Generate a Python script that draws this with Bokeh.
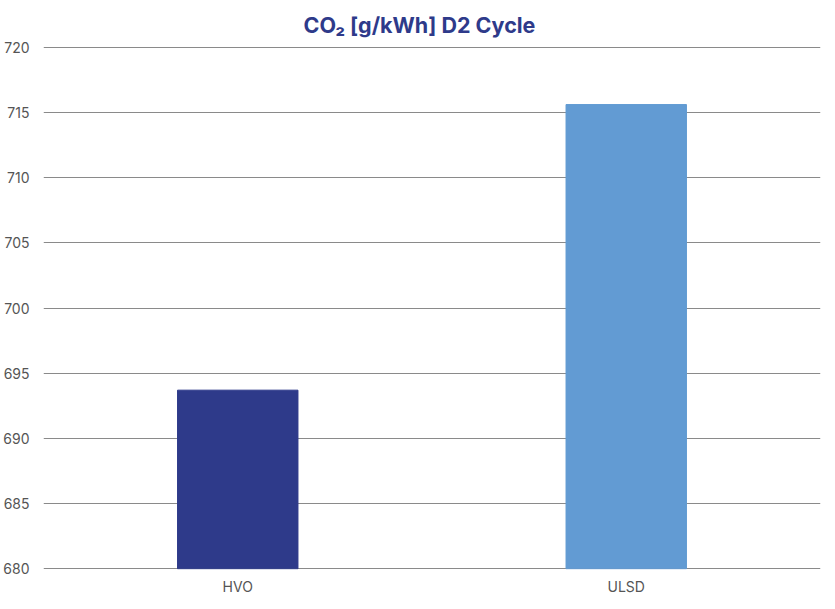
from bokeh.plotting import figure
from bokeh.models import FixedTicker, ColumnDataSource
from bokeh.embed import file_html
from bokeh.resources import INLINE

fuels = ["HVO", "ULSD"]
co2 = [693.7, 715.6]
colors = ["#2e3a8a", "#629bd3"]
y_ticks = [680, 685, 690, 695, 700, 705, 710, 715, 720]

src = ColumnDataSource(dict(x=fuels, top=co2, color=colors))

p = figure(x_range=fuels, y_range=(679.95, 720.05),
           frame_width=777, frame_height=523,
           output_backend="svg", toolbar_location=None,
           title="CO\u2082 [g/kWh] D2 Cycle",
           min_border_left=0, min_border_right=7, min_border_top=0, min_border_bottom=0)

p.vbar(x="x", top="top", bottom=680, width=0.31, color="color", source=src)

p.title.align = "left"
p.title.text_font = "Inter"
p.title.text_font_size = "21.5px"
p.title.text_font_style = "bold"
p.title.text_color = "#2e3a8a"
p.title.offset = 260
p.title.standoff = 18

p.outline_line_color = None
p.xgrid.grid_line_color = None
p.ygrid.grid_line_color = "#8a8a8a"
p.ygrid.grid_line_width = 1.2

p.yaxis.ticker = FixedTicker(ticks=y_ticks)
p.yaxis.axis_line_color = None
p.yaxis.major_tick_line_color = None
p.yaxis.minor_tick_line_color = None
p.yaxis.major_tick_out = 0
p.yaxis.major_tick_in = 0
p.yaxis.minor_tick_out = 0
p.yaxis.major_label_standoff = 14
p.yaxis.major_label_text_font = "Inter"
p.yaxis.major_label_text_font_size = "14px"
p.yaxis.major_label_text_color = "#555555"

p.xaxis.axis_line_color = None
p.xaxis.major_tick_line_color = None
p.xaxis.major_tick_out = 0
p.xaxis.major_tick_in = 0
p.xaxis.major_label_standoff = 8
p.xaxis.major_label_text_font = "Inter"
p.xaxis.major_label_text_font_size = "14px"
p.xaxis.major_label_text_color = "#555555"

p.background_fill_color = "white"
p.border_fill_color = "white"

open("out.html", "w").write(file_html(p, INLINE))
